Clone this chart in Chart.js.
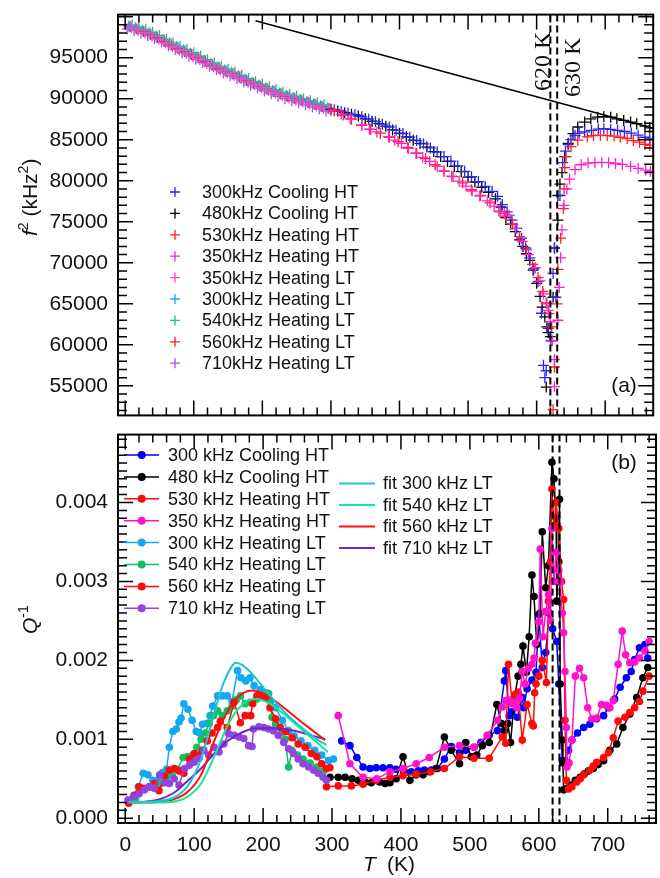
<!DOCTYPE html>
<html>
<head>
<meta charset="utf-8">
<script src="https://cdn.jsdelivr.net/npm/chart.js@4.4.1/dist/chart.umd.min.js"></script>
<style>
  html, body { margin: 0; padding: 0; background: #fff; }
  #wrap { position: relative; width: 660px; height: 878px; }
  canvas { position: absolute; left: 0; }
  #topChart { top: 0; }
  #bottomChart { top: 420px; }
</style>
</head>
<body>
<div id="wrap">
  <canvas id="topChart" width="660" height="430"></canvas>
  <canvas id="bottomChart" width="660" height="458"></canvas>
</div>
<script>
// Axis ranges and tick labels
const tRange = [-10.5, 770];
const tTickLabels = [0, 100, 200, 300, 400, 500, 600, 700];
const f2Range = [51400, 100250];
const f2TickLabels = [55000, 60000, 65000, 70000, 75000, 80000, 85000, 90000, 95000];
const qRange = [-0.00006, 0.00486];
const qTickLabels = [0, 0.001, 0.002, 0.003, 0.004];
const transitionT = [620, 630];
const Q_UNIT = 1e-3; // Q^-1 series below are written in units of 1e-3

// Straight guide line in panel (a)
const guideT = [190, 770];
const guideF2 = [99500, 86400];

// Panel (a): f^2 (kHz^2) vs T (K)
const f2Cool300HT = [[305,88650],[315,88450],[325,88250],[335,88050],[345,87800],[355,87500],[365,87200],[375,86900],[385,86550],[395,86150],[405,85750],[415,85300],[425,84900],[435,84500],[445,84000],[455,83500],[465,82950],[475,82400],[485,81800],[495,81150],[505,80500],[515,79900],[525,79300],[535,78700],[543,78100],[550,77100],[557,76200],[564,75200],[571,74200],[578,73000],[584,71800],[590,70600],[596,69300],[602,67700],[607,63850],[610,57500],[612,56000],[614,56840],[617,62000],[621,60500],[624,68700],[626,71800],[628,65800],[634,78200],[638,82200],[642,83600],[646,84400],[650,85000],[656,85500],[662,85800],[670,85950],[680,86150],[690,86300],[698,86350],[708,86250],[718,86150],[728,86000],[738,85800],[748,85550],[758,85300],[765,85100]];
const f2Cool480HT = [[300,88700],[310,88500],[320,88300],[330,88100],[340,87900],[350,87550],[360,87250],[370,86950],[380,86650],[390,86200],[400,85800],[410,85350],[420,84950],[430,84550],[440,84100],[450,83550],[460,82950],[470,82350],[480,81750],[490,81100],[500,80450],[510,79850],[520,79200],[530,78600],[540,77800],[548,76800],[555,75500],[562,74700],[569,73800],[575,72800],[580,72000],[585,71100],[590,70300],[595,69100],[600,67500],[605,65900],[608,64600],[612,63400],[615,62200],[617,61500],[614,54850],[620,61000],[624,65800],[626,71800],[631,75200],[631,78200],[634,79600],[637,81000],[641,82950],[646,84550],[653,85750],[660,86550],[670,87150],[679,87550],[689,87750],[698,87820],[708,87750],[717,87550],[727,87350],[737,87150],[746,86950],[758,86650],[765,86450]];
const f2Heat530HT = [[305,88500],[318,88000],[330,87500],[345,86800],[358,86250],[372,85800],[385,85300],[398,84750],[412,84050],[425,83350],[438,82700],[452,81950],[465,81200],[478,80500],[492,79750],[505,78900],[518,78200],[532,77300],[545,76300],[555,75700],[565,74700],[575,73200],[585,71600],[594,69800],[602,68200],[609,66500],[614,65100],[618,63800],[622,62200],[624,52100],[626,57300],[630,65000],[631,69200],[635,73000],[639,76600],[640,79000],[641,81600],[643,82950],[650,84150],[660,84950],[674,85350],[683,85500],[693,85550],[703,85500],[713,85450],[722,85300],[732,85150],[741,84900],[750,84700],[758,84450],[765,84300]];
const f2Heat350HT = [[300,88600],[315,88100],[328,87550],[345,86750],[356,86300],[367,85950],[384,85350],[393,84950],[403,84550],[413,83950],[424,83350],[434,82850],[444,82350],[455,81750],[465,81150],[476,80550],[487,79950],[497,79350],[506,78750],[517,78150],[528,77550],[538,76900],[547,76200],[553,76000],[560,75800],[569,74200],[579,72600],[588,71000],[598,69400],[605,67800],[610,66200],[615,65000],[617,64200],[620,62800],[623,60500],[626,58200],[626,54900],[631,63000],[633,67000],[635,70600],[637,74000],[640,77000],[644,79000],[648,80200],[656,81350],[665,81950],[675,82150],[685,82200],[695,82250],[705,82200],[715,82100],[725,82000],[737,81750],[748,81500],[759,81300],[766,81150]];
const f2Heat350LT = [[9,98650],[19,98350],[29,98050],[39,97650],[49,97250],[59,96800],[69,96350],[79,95950],[89,95550],[99,95150],[109,94750],[119,94300],[129,93900],[139,93500],[149,93150],[159,92850],[169,92450],[179,92050],[189,91700],[199,91350],[209,91000],[219,90700],[229,90400],[239,90100],[249,89850],[259,89600],[269,89350],[279,89100],[289,88850]];
const f2Heat300LT = [[5,98850],[15,98650],[25,98350],[35,98050],[45,97650],[55,97200],[65,96800],[75,96350],[85,95950],[95,95550],[105,95150],[115,94700],[125,94250],[135,93850],[145,93500],[155,93200],[165,92800],[175,92400],[185,92000],[195,91650],[205,91300],[215,91000],[225,90700],[235,90400],[245,90150],[255,89900],[265,89650],[275,89400],[285,89150],[295,88900]];
const f2Heat540LT = [[10,99000],[20,98750],[30,98450],[40,98100],[50,97700],[60,97250],[70,96800],[80,96400],[90,96000],[100,95600],[110,95200],[120,94750],[130,94350],[140,93950],[150,93600],[160,93250],[170,92850],[180,92450],[190,92100],[200,91750],[210,91450],[220,91100],[230,90800],[240,90550],[250,90300],[260,90000],[270,89750],[280,89500],[290,89250]];
const f2Heat560LT = [[7,98800],[17,98500],[27,98200],[37,97850],[47,97450],[57,97000],[67,96550],[77,96150],[87,95750],[97,95350],[107,95000],[117,94550],[127,94100],[137,93700],[147,93350],[157,93050],[167,92650],[177,92250],[187,91900],[197,91550],[207,91200],[217,90900],[227,90600],[237,90300],[247,90050],[257,89800],[267,89550],[277,89300],[287,89050],[297,88800]];
const f2Heat710LT = [[3,98500],[13,98300],[23,98000],[33,97700],[43,97300],[53,96900],[63,96450],[73,96000],[83,95600],[93,95200],[103,94800],[113,94400],[123,93950],[133,93550],[143,93150],[153,92800],[163,92450],[173,92050],[183,91650],[193,91300],[203,90950],[213,90600],[223,90300],[233,90000],[243,89750],[253,89500],[263,89250],[273,89000],[283,88750],[293,88500]];

// Panel (b): Q^-1 (x 1e-3) vs T (K)
const qCool300HT = [[314,0.98],[326,0.92],[336,0.77],[345,0.65],[355,0.63],[364,0.64],[374,0.64],[384,0.64],[393,0.62],[404,0.60],[415,0.59],[425,0.60],[434,0.61],[444,0.61],[453,0.63],[463,0.75],[473,0.91],[485,0.83],[494,0.86],[506,0.90],[516,0.96],[528,1.05],[540,1.11],[550,1.74],[552,1.87],[557,1.30],[561,1.35],[569,1.28],[576,1.53],[578,1.40],[583,1.64],[590,1.75],[596,1.85],[600,2.58],[605,1.91],[610,2.10],[615,2.60],[620,2.40],[626,2.24],[629,1.70],[634,0.73],[638,0.73],[643,0.86],[648,0.99],[656,1.08],[665,1.15],[674,1.19],[684,1.26],[694,1.30],[701,1.40],[710,1.51],[718,1.66],[727,1.78],[734,1.86],[739,2.01],[746,2.16],[754,2.20],[758,2.03]];
const qCool480HT = [[297,0.52],[309,0.52],[319,0.52],[329,0.50],[338,0.48],[348,0.46],[357,0.45],[369,0.46],[377,0.44],[384,0.45],[393,0.50],[403,0.78],[413,0.48],[422,0.55],[432,0.55],[441,0.59],[451,0.63],[463,1.03],[473,0.86],[485,0.69],[494,0.96],[502,0.78],[510,0.80],[518,0.92],[528,0.96],[539,1.44],[546,1.20],[550,1.11],[555,1.20],[559,0.96],[565,1.55],[570,1.80],[574,1.95],[577,2.18],[582,1.85],[586,2.30],[590,3.08],[593,2.81],[597,2.20],[602,2.60],[605,3.63],[610,2.92],[614,3.20],[619,4.51],[622,4.30],[625,3.80],[626,2.75],[629,3.25],[630,4.04],[631,1.70],[634,0.99],[635,0.70],[636,0.36],[641,0.38],[646,0.42],[653,0.48],[660,0.52],[666,0.56],[672,0.60],[679,0.63],[686,0.68],[694,0.73],[703,0.86],[713,0.94],[722,1.15],[732,1.32],[742,1.53],[751,1.78],[758,1.91]];
const qHeat530HT = [[292,0.40],[309,0.41],[328,0.41],[345,0.43],[364,0.48],[384,0.52],[403,0.54],[422,0.56],[443,0.59],[463,0.63],[485,0.78],[506,0.76],[528,0.76],[547,1.03],[552,0.95],[556,1.95],[561,1.49],[566,1.57],[570,1.60],[576,0.99],[583,1.44],[590,1.20],[592,1.17],[594,1.59],[596,1.70],[600,1.80],[605,2.00],[611,1.72],[614,2.75],[617,3.25],[619,4.17],[622,3.71],[625,4.00],[629,3.67],[633,3.00],[636,2.77],[638,1.24],[640,0.48],[643,0.37],[648,0.40],[655,0.46],[660,0.50],[665,0.55],[674,0.61],[679,0.66],[684,0.71],[694,0.77],[701,0.83],[708,1.02],[715,1.23],[725,1.28],[732,1.34],[739,1.40],[746,1.48],[751,1.61],[760,1.80]];
const qHeat350HT = [[309,1.30],[326,0.69],[345,0.52],[365,0.50],[384,0.59],[403,0.63],[422,0.69],[441,0.77],[463,0.90],[485,0.92],[506,0.90],[525,1.05],[540,1.24],[547,1.41],[552,1.49],[556,1.50],[560,1.45],[564,1.47],[568,1.40],[572,1.52],[576,1.86],[580,1.70],[585,1.90],[590,1.95],[593,2.03],[595,2.22],[600,2.49],[602,3.41],[606,2.30],[610,2.62],[614,2.83],[617,2.50],[619,3.67],[622,3.00],[625,3.37],[629,3.14],[631,3.00],[634,2.60],[636,2.35],[638,1.86],[640,1.15],[641,0.65],[644,0.70],[648,0.99],[653,1.80],[659,1.90],[665,1.78],[671,1.40],[677,1.26],[684,1.27],[691,1.44],[698,1.43],[703,1.40],[708,1.49],[715,1.95],[721,2.37],[726,2.07],[732,1.97],[739,1.98],[746,2.03],[754,2.12],[760,2.24]];
const qHeat300LT = [[5,0.22],[12,0.28],[19,0.40],[26,0.57],[33,0.55],[40,0.48],[47,0.48],[54,0.58],[60,0.62],[64,0.90],[69,1.10],[74,1.13],[78,1.22],[81,1.27],[85,1.45],[91,1.38],[97,1.24],[103,1.10],[108,1.08],[112,1.19],[118,1.20],[123,1.30],[127,1.42],[134,1.55],[141,1.55],[148,1.55],[155,1.48],[163,1.87],[168,1.78],[175,1.74],[181,1.78],[187,1.68],[196,1.63],[204,1.59],[211,1.49],[218,1.40],[228,1.24],[237,1.11],[245,1.04],[255,0.98],[265,0.92],[275,0.86],[285,0.80],[295,0.73],[302,0.75]];
const qHeat540LT = [[5,0.21],[15,0.25],[25,0.36],[35,0.40],[45,0.42],[52,0.44],[60,0.52],[68,0.55],[76,0.62],[84,0.77],[90,0.78],[97,0.79],[104,0.90],[110,1.00],[116,1.08],[122,1.20],[128,1.30],[134,1.36],[141,1.30],[148,1.36],[155,1.42],[161,1.50],[167,1.55],[174,1.45],[181,1.47],[191,1.51],[201,1.55],[208,1.58],[213,1.28],[218,1.19],[227,1.09],[232,1.00],[237,0.65],[242,0.86],[250,0.80],[258,0.75],[268,0.70],[278,0.65],[288,0.60]];
const qHeat560LT = [[5,0.19],[13,0.29],[20,0.40],[27,0.38],[35,0.40],[42,0.44],[49,0.35],[57,0.53],[64,0.61],[71,0.63],[78,0.60],[85,0.57],[93,0.75],[100,0.82],[106,0.80],[112,0.86],[119,0.98],[126,1.08],[134,1.15],[138,1.23],[148,1.15],[158,1.47],[167,1.21],[174,1.30],[182,1.30],[185,1.45],[191,1.55],[197,1.55],[203,1.53],[210,1.40],[218,1.26],[225,1.15],[233,1.10],[242,1.02],[251,0.94],[261,0.90],[270,0.82],[278,0.78],[285,0.69],[292,0.63],[297,0.64]];
const qHeat710LT = [[4,0.23],[12,0.27],[20,0.31],[28,0.36],[35,0.40],[42,0.38],[50,0.55],[57,0.45],[64,0.44],[71,0.50],[78,0.42],[86,0.63],[93,0.67],[100,0.71],[107,0.76],[114,0.86],[121,0.80],[129,0.90],[136,0.84],[143,0.94],[150,1.07],[158,1.05],[165,1.03],[172,1.01],[179,0.92],[184,0.91],[186,1.13],[194,1.16],[201,1.15],[208,1.13],[215,1.11],[222,1.05],[230,0.96],[237,0.88],[244,0.82],[251,0.75],[258,0.69],[266,0.65],[273,0.61],[280,0.57],[287,0.52],[292,0.48]];
const fit300LT = [[5,0.21],[30,0.21],[50,0.22],[70,0.26],[90,0.40],[110,0.75],[125,1.20],[140,1.65],[155,1.93],[160,1.97],[170,1.94],[185,1.82],[200,1.66],[220,1.45],[240,1.27],[260,1.12],[280,0.99],[292,0.93]];
const fit540LT = [[5,0.20],[30,0.20],[50,0.20],[70,0.21],[90,0.27],[110,0.44],[130,0.80],[150,1.20],[170,1.44],[190,1.51],[210,1.45],[230,1.32],[250,1.17],[270,1.02],[294,0.84]];
const fit560LT = [[5,0.20],[30,0.20],[50,0.21],[70,0.24],[90,0.33],[110,0.55],[130,1.00],[150,1.38],[170,1.58],[185,1.62],[200,1.58],[220,1.47],[240,1.33],[260,1.19],[275,1.09],[290,0.99]];
const fit710LT = [[5,0.20],[30,0.21],[50,0.24],[70,0.32],[90,0.47],[110,0.63],[130,0.83],[150,0.99],[170,1.09],[190,1.14],[210,1.14],[230,1.13],[250,1.10],[270,1.05],[290,1.00]];

const FONT = '"Liberation Sans", Arial, Helvetica, sans-serif';
Chart.defaults.font.family = FONT;
Chart.defaults.color = '#111';

function toPoints(pairs, unit) {
  return pairs.map(p => ({ x: p[0], y: p[1] * (unit || 1) }));
}

function isMajor(v, major) {
  const r = v / major;
  return Math.abs(r - Math.round(r)) < 1e-6;
}

// Frame with inward ticks on all four sides + dashed transition lines
const framePlugin = {
  id: 'frame',
  afterDatasetsDraw(chart, args, o) {
    const { ctx, chartArea: a } = chart;
    const xs = chart.scales.x, ys = chart.scales.y;
    ctx.save();
    ctx.strokeStyle = '#000';
    ctx.lineWidth = 2;
    ctx.setLineDash([7, 4]);
    transitionT.forEach(t => {
      const px = xs.getPixelForValue(t);
      ctx.beginPath();
      ctx.moveTo(px, a.top);
      ctx.lineTo(px, a.bottom);
      ctx.stroke();
    });
    ctx.setLineDash([]);

    ctx.lineWidth = 1.5;
    ctx.beginPath();
    for (let i = 0; ; i++) {
      const v = o.x[0] + i * o.x[2];
      if (v > o.x[1] + 1e-9) break;
      const px = xs.getPixelForValue(v);
      const len = isMajor(v, o.x[3]) ? 15 : 8;
      ctx.moveTo(px, a.bottom); ctx.lineTo(px, a.bottom - len);
      ctx.moveTo(px, a.top); ctx.lineTo(px, a.top + len);
    }
    for (let i = 0; ; i++) {
      const v = o.y[0] + i * o.y[2];
      if (v > o.y[1] + o.y[2] * 1e-6) break;
      const py = ys.getPixelForValue(v);
      const len = isMajor(v, o.y[3]) ? 15 : 9;
      ctx.moveTo(a.left, py); ctx.lineTo(a.left + len, py);
      ctx.moveTo(a.right, py); ctx.lineTo(a.right - len, py);
    }
    ctx.stroke();
    ctx.lineWidth = 2;
    ctx.strokeRect(a.left, a.top, a.right - a.left, a.bottom - a.top);
    ctx.restore();
  }
};

// Text made of pieces (italic, superscript)
function drawRich(ctx, parts, x, y) {
  parts.forEach(p => {
    const size = p.sup ? 14 : 21;
    ctx.font = (p.italic ? 'italic ' : '') + size + 'px ' + FONT;
    ctx.fillText(p.t, x, p.sup ? y - 9 : y);
    x += ctx.measureText(p.t).width;
  });
}

// Panel (a) texts and legend
const topDecor = {
  id: 'topDecor',
  afterDraw(chart) {
    const ctx = chart.ctx;
    ctx.save();
    ctx.fillStyle = '#111';
    ctx.textBaseline = 'alphabetic';
    // y title
    ctx.save();
    ctx.translate(37, 236);
    ctx.rotate(-Math.PI / 2);
    drawRich(ctx, [{ t: 'f', italic: true }, { t: '2', sup: true }, { t: ' (kHz' }, { t: '2', sup: true }, { t: ')' }], 0, 0);
    ctx.restore();
    // transition labels
    ctx.font = '24px "Liberation Serif", "Times New Roman", serif';
    [[550, 91, '620 K'], [580, 97, '630 K']].forEach(l => {
      ctx.save();
      ctx.translate(l[0], l[1]);
      ctx.rotate(-Math.PI / 2);
      ctx.fillText(l[2], 0, 0);
      ctx.restore();
    });
    ctx.font = '21px ' + FONT;
    ctx.textAlign = 'center';
    ctx.textBaseline = 'middle';
    ctx.fillText('(a)', 624, 386);
    // legend
    ctx.textAlign = 'left';
    ctx.font = '18px ' + FONT;
    chart.data.datasets.forEach((ds, i) => {
      if (!ds.inLegend) return;
      const y = 192 + i * 21.4;
      ctx.strokeStyle = ds.borderColor;
      ctx.lineWidth = 1.3;
      ctx.beginPath();
      ctx.moveTo(170, y); ctx.lineTo(180, y);
      ctx.moveTo(175, y - 5); ctx.lineTo(175, y + 5);
      ctx.stroke();
      ctx.fillStyle = '#111';
      ctx.fillText(ds.label, 202, y + 1);
    });
    ctx.restore();
  }
};

// Panel (b) texts and legends
const bottomDecor = {
  id: 'bottomDecor',
  afterDraw(chart) {
    const ctx = chart.ctx;
    ctx.save();
    ctx.fillStyle = '#111';
    ctx.textBaseline = 'alphabetic';
    ctx.save();
    ctx.translate(37, 214);
    ctx.rotate(-Math.PI / 2);
    drawRich(ctx, [{ t: 'Q', italic: true }, { t: '-1', sup: true }], 0, 0);
    ctx.restore();
    drawRich(ctx, [{ t: 'T', italic: true }], 363, 451);
    drawRich(ctx, [{ t: '(K)' }], 387, 451);
    ctx.font = '21px ' + FONT;
    ctx.textAlign = 'center';
    ctx.textBaseline = 'middle';
    ctx.fillText('(b)', 624, 43);
    ctx.textAlign = 'left';
    ctx.font = '18px ' + FONT;
    let nData = 0, nFit = 0;
    chart.data.datasets.forEach(ds => {
      ctx.strokeStyle = ds.borderColor;
      ctx.fillStyle = ds.borderColor;
      if (ds.isFit) {
        const y = 63.5 + nFit * 21.5;
        nFit++;
        ctx.lineWidth = 2;
        ctx.beginPath(); ctx.moveTo(339, y); ctx.lineTo(375, y); ctx.stroke();
        ctx.fillStyle = '#111';
        ctx.fillText(ds.label, 383, y + 1);
      } else {
        const y = 35 + nData * 21.9;
        nData++;
        ctx.lineWidth = 1.5;
        ctx.beginPath(); ctx.moveTo(124, y); ctx.lineTo(159, y); ctx.stroke();
        ctx.beginPath(); ctx.arc(141.7, y, 4, 0, Math.PI * 2); ctx.fill();
        ctx.fillStyle = '#111';
        ctx.fillText(ds.label, 168, y + 1);
      }
    });
    ctx.restore();
  }
};

// Build panel (a)
function plusSeries(label, pairs, color, order) {
  return {
    label: label, data: toPoints(pairs), inLegend: true, order: order,
    borderColor: color, backgroundColor: color,
    pointStyle: 'cross', pointRadius: 5.5, borderWidth: 1.3, showLine: false
  };
}

const topDatasets = [
  plusSeries('300kHz Cooling HT', f2Cool300HT, '#2424ff', 3),
  plusSeries('480kHz Cooling HT', f2Cool480HT, '#000000', 4),
  plusSeries('530kHz Heating HT', f2Heat530HT, '#ff2020', 2),
  plusSeries('350kHz Heating HT', f2Heat350HT, '#ff20c8', 1),
  plusSeries('350kHz Heating LT', f2Heat350LT, '#ff40d0', 5),
  plusSeries('300kHz Heating LT', f2Heat300LT, '#20a4f0', 6),
  plusSeries('540kHz Heating LT', f2Heat540LT, '#20c070', 7),
  plusSeries('560kHz Heating LT', f2Heat560LT, '#ff2020', 8),
  plusSeries('710kHz Heating LT', f2Heat710LT, '#a050f0', 9),
  {
    label: 'guide', data: guideT.map((t, i) => ({ x: t, y: guideF2[i] })), inLegend: false,
    order: 20, borderColor: '#000', borderWidth: 1.5, pointRadius: 0, showLine: true
  }
];

new Chart(document.getElementById('topChart'), {
  type: 'scatter',
  data: { datasets: topDatasets },
  plugins: [framePlugin, topDecor],
  options: {
    responsive: false, animation: false, events: [], devicePixelRatio: 1,
    layout: { padding: { top: 12, right: 2, bottom: 8, left: 0 } },
    plugins: {
      legend: { display: false }, tooltip: { enabled: false },
      frame: { x: [0, 760, 20, 100], y: [52000, 100000, 1000, 5000] }
    },
    scales: {
      x: { type: 'linear', min: tRange[0], max: tRange[1], display: false },
      y: {
        type: 'linear', min: f2Range[0], max: f2Range[1],
        grid: { display: false }, border: { display: false },
        afterBuildTicks: s => { s.ticks = f2TickLabels.map(v => ({ value: v })); },
        afterFit: s => { s.width = 118; },
        ticks: { padding: 2, font: { size: 21 }, color: '#111', callback: v => String(v) }
      }
    }
  }
});

// Build panel (b)
function dotSeries(label, pairs, color, order) {
  return {
    label: label, data: toPoints(pairs, Q_UNIT), order: order,
    borderColor: color, backgroundColor: color,
    pointRadius: 3.8, pointBorderWidth: 0, borderWidth: 1.5
  };
}
function fitSeries(label, pairs, color) {
  return {
    label: label, data: toPoints(pairs, Q_UNIT), isFit: true, order: 0,
    borderColor: color, borderWidth: 2, pointRadius: 0,
    cubicInterpolationMode: 'monotone'
  };
}

const bottomDatasets = [
  dotSeries('300 kHz Cooling HT', qCool300HT, '#0000ff', 8),
  dotSeries('480 kHz Cooling HT', qCool480HT, '#000000', 7),
  dotSeries('530 kHz Heating HT', qHeat530HT, '#ff0a0a', 6),
  dotSeries('350 kHz Heating HT', qHeat350HT, '#ff12cc', 5),
  dotSeries('300 kHz Heating LT', qHeat300LT, '#12a8f2', 4),
  dotSeries('540 kHz Heating LT', qHeat540LT, '#12c062', 3),
  dotSeries('560 kHz Heating LT', qHeat560LT, '#ff0a0a', 2),
  dotSeries('710 kHz Heating LT', qHeat710LT, '#9343e0', 1),
  fitSeries('fit 300 kHz LT', fit300LT, '#1ec6cc'),
  fitSeries('fit 540 kHz LT', fit540LT, '#14e894'),
  fitSeries('fit 560 kHz LT', fit560LT, '#ff1010'),
  fitSeries('fit 710 kHz LT', fit710LT, '#7026d2')
];

new Chart(document.getElementById('bottomChart'), {
  type: 'line',
  data: { datasets: bottomDatasets },
  plugins: [framePlugin, bottomDecor],
  options: {
    responsive: false, animation: false, events: [], devicePixelRatio: 1,
    layout: { padding: { top: 12, right: 2, bottom: 0, left: 0 } },
    plugins: {
      legend: { display: false }, tooltip: { enabled: false },
      frame: { x: [0, 760, 20, 100], y: [0, 0.0048, 0.0001, 0.001] }
    },
    scales: {
      x: {
        type: 'linear', min: tRange[0], max: tRange[1],
        grid: { display: false }, border: { display: false },
        afterBuildTicks: s => { s.ticks = tTickLabels.map(v => ({ value: v })); },
        afterFit: s => { s.height = 55; },
        ticks: { padding: 2, font: { size: 21 }, color: '#111', maxRotation: 0, autoSkip: false }
      },
      y: {
        type: 'linear', min: qRange[0], max: qRange[1],
        grid: { display: false }, border: { display: false },
        afterBuildTicks: s => { s.ticks = qTickLabels.map(v => ({ value: v })); },
        afterFit: s => { s.width = 118; },
        ticks: { padding: 2, font: { size: 21 }, color: '#111', callback: v => v.toFixed(3) }
      }
    }
  }
});
</script>
</body>
</html>
